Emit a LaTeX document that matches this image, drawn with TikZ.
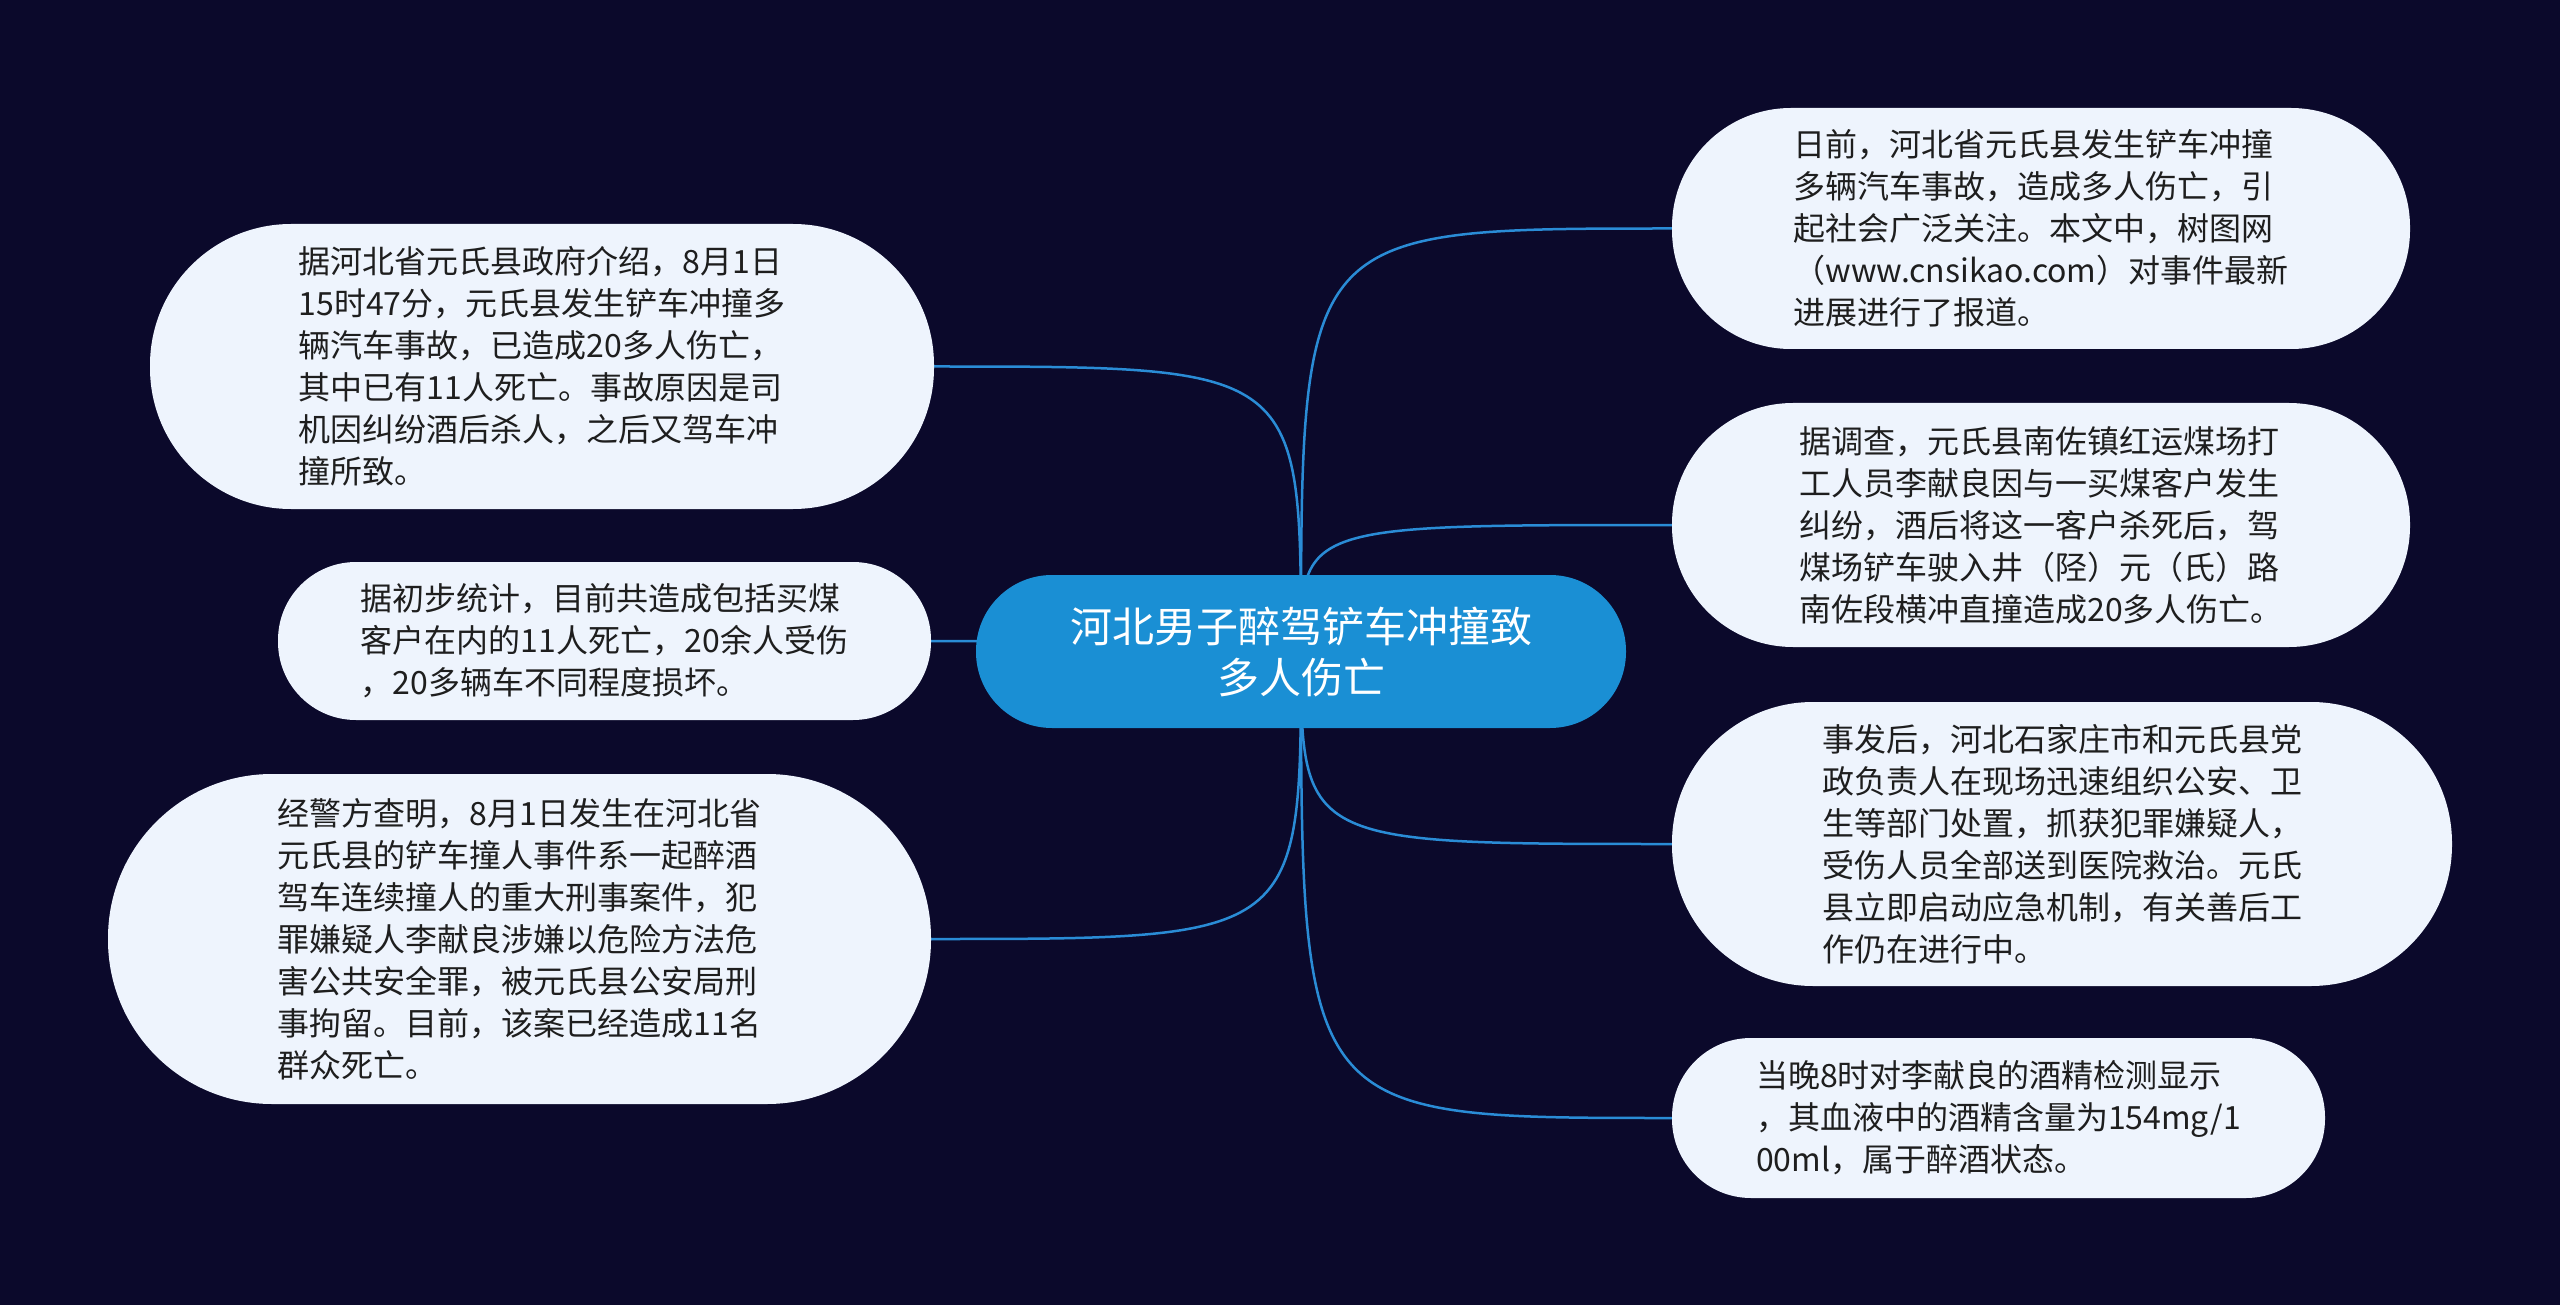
\documentclass[tikz,border=0pt]{standalone}
\usepackage{fontspec}
\setmainfont{Noto Sans CJK SC}
\usetikzlibrary{backgrounds}
\definecolor{bgcol}{RGB}{11,9,43}
\definecolor{boxfill}{RGB}{238,244,253}
\definecolor{boxtext}{RGB}{30,30,30}
\definecolor{maincol}{RGB}{26,143,212}
\definecolor{linkcol}{RGB}{42,140,214}
\tikzset{
  leaf/.style={rectangle, fill=boxfill, text=boxtext, align=left, inner sep=0pt,
    font=\fontsize{32}{42}\selectfont},
  root/.style={rectangle, fill=maincol, text=white, align=center, inner sep=0pt,
    font=\fontsize{42}{51}\selectfont},
  link/.style={draw=linkcol, line width=2.5pt}
}
\begin{document}
\begin{tikzpicture}[x=1pt,y=-1pt]
\useasboundingbox (0,0) rectangle (2560,1305);

\node[root, minimum width=650pt, minimum height=153pt, rounded corners=76pt] (c) at (1301,651.5)
  {河北男子醉驾铲车冲撞致\\多人伤亡};

\node[leaf, minimum width=784pt, minimum height=285pt, rounded corners=141pt] (l1) at (542,366.5)
  {据河北省元氏县政府介绍，8月1日\\15时47分，元氏县发生铲车冲撞多\\辆汽车事故，已造成20多人伤亡，\\其中已有11人死亡。事故原因是司\\机因纠纷酒后杀人，之后又驾车冲\\撞所致。};

\node[leaf, minimum width=653pt, minimum height=158pt, rounded corners=78pt] (l2) at (604.5,641)
  {据初步统计，目前共造成包括买煤\\客户在内的11人死亡，20余人受伤\\，20多辆车不同程度损坏。};

\node[leaf, minimum width=823pt, minimum height=330pt, rounded corners=164pt] (l3) at (519.5,939)
  {经警方查明，8月1日发生在河北省\\元氏县的铲车撞人事件系一起醉酒\\驾车连续撞人的重大刑事案件，犯\\罪嫌疑人李献良涉嫌以危险方法危\\害公共安全罪，被元氏县公安局刑\\事拘留。目前，该案已经造成11名\\群众死亡。};

\node[leaf, minimum width=738pt, minimum height=241pt, rounded corners=119pt] (r1) at (2041,228.5)
  {日前，河北省元氏县发生铲车冲撞\\多辆汽车事故，造成多人伤亡，引\\起社会广泛关注。本文中，树图网\\（www.cnsikao.com）对事件最新\\进展进行了报道。};

\node[leaf, minimum width=738pt, minimum height=244pt, rounded corners=121pt] (r2) at (2041,525)
  {据调查，元氏县南佐镇红运煤场打\\工人员李献良因与一买煤客户发生\\纠纷，酒后将这一客户杀死后，驾\\煤场铲车驶入井（陉）元（氏）路\\南佐段横冲直撞造成20多人伤亡。};

\node[leaf, minimum width=780pt, minimum height=284pt, rounded corners=141pt] (r3) at (2062,844)
  {事发后，河北石家庄市和元氏县党\\政负责人在现场迅速组织公安、卫\\生等部门处置，抓获犯罪嫌疑人，\\受伤人员全部送到医院救治。元氏\\县立即启动应急机制，有关善后工\\作仍在进行中。};

\node[leaf, minimum width=653pt, minimum height=160pt, rounded corners=79pt] (r4) at (1998.5,1118)
  {当晚8时对李献良的酒精检测显示\\，其血液中的酒精含量为154mg/1\\00ml，属于醉酒状态。};

\begin{scope}[on background layer]
  \fill[bgcol] (0,0) rectangle (2560,1305);
  \draw[link] (c.center) .. controls (c.center |- l1.east) .. (l1.east);
  \draw[link] (c.center) .. controls (c.center |- l2.east) .. (l2.east);
  \draw[link] (c.center) .. controls (c.center |- l3.east) .. (l3.east);
  \draw[link] (c.center) .. controls (c.center |- r1.west) .. (r1.west);
  \draw[link] (c.center) .. controls (c.center |- r2.west) .. (r2.west);
  \draw[link] (c.center) .. controls (c.center |- r3.west) .. (r3.west);
  \draw[link] (c.center) .. controls (c.center |- r4.west) .. (r4.west);
\end{scope}
\end{tikzpicture}
\end{document}
